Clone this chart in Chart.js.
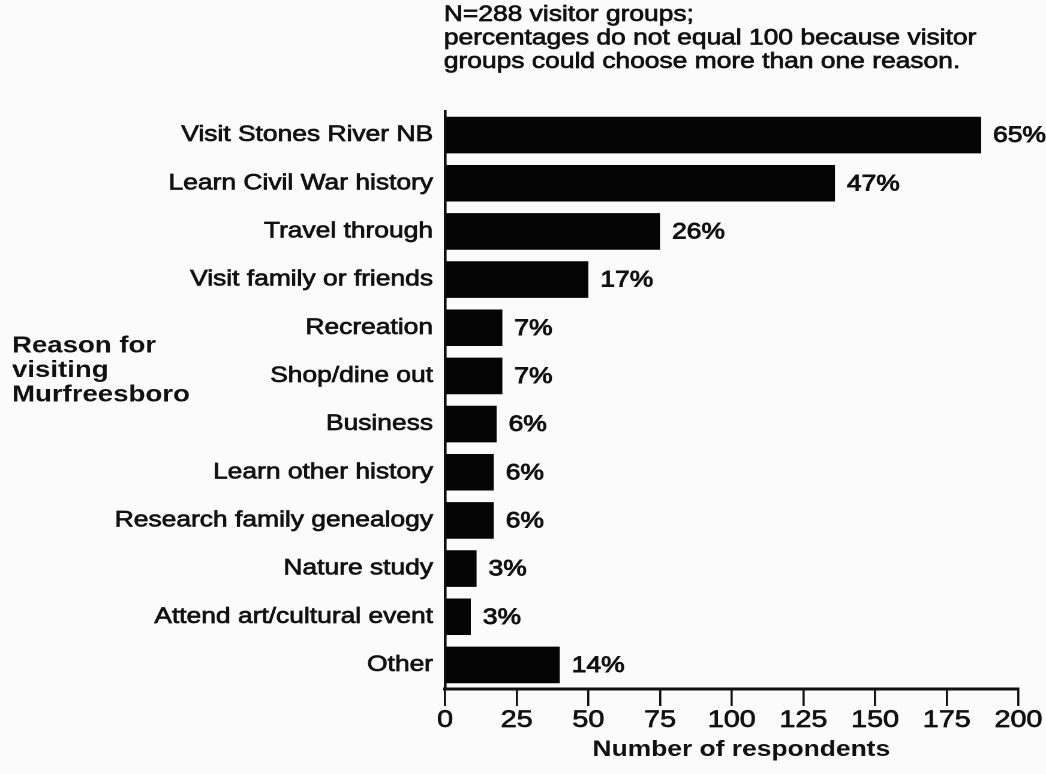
<!DOCTYPE html>
<html>
<head>
<meta charset="utf-8">
<script src="https://cdn.jsdelivr.net/npm/chart.js@4.4.1/dist/chart.umd.min.js"></script>
<style>
  html, body { margin: 0; padding: 0; background: #fbfbfb; }
  #c { display: block; width: 1046px; height: 774px; }
</style>
</head>
<body>
<canvas id="c" width="872" height="774" style="width:1046px;height:774px;"></canvas>
<script>
// ---- data ----
const categories = [
  'Visit Stones River NB',
  'Learn Civil War history',
  'Travel through',
  'Visit family or friends',
  'Recreation',
  'Shop/dine out',
  'Business',
  'Learn other history',
  'Research family genealogy',
  'Nature study',
  'Attend art/cultural event',
  'Other'
];
const respondents = [187, 136, 75, 50, 20, 20, 18, 17, 17, 11, 9, 40];
const percentLabels = ['65%', '47%', '26%', '17%', '7%', '7%', '6%', '6%', '6%', '3%', '3%', '14%'];
const xTicks = [0, 25, 50, 75, 100, 125, 150, 175, 200];
const noteLines = [
  'N=288 visitor groups;',
  'percentages do not equal 100 because visitor',
  'groups could choose more than one reason.'
];
const yTitleLines = ['Reason for', 'visiting', 'Murfreesboro'];
const xTitle = 'Number of respondents';

const FONT = '"Liberation Sans", Arial, Helvetica, sans-serif';
const INK = '#111111';
const STROKE = 0.7;

function heavyText(ctx, t, x, y, w) {
  ctx.fillText(t, x, y);
  ctx.lineWidth = w;
  ctx.strokeStyle = INK;
  ctx.strokeText(t, x, y);
}

const textPlugin = {
  id: 'texts',
  beforeDraw(chart) {
    const ctx = chart.ctx;
    ctx.save();
    ctx.fillStyle = '#fbfbfb';
    ctx.fillRect(0, 0, chart.width, chart.height);
    ctx.restore();
  },
  afterDatasetsDraw(chart) {
    const ctx = chart.ctx;
    const meta = chart.getDatasetMeta(0);
    ctx.save();
    ctx.fillStyle = INK;
    ctx.font = '22px ' + FONT;
    ctx.textAlign = 'left';
    ctx.textBaseline = 'middle';
    meta.data.forEach((bar, i) => {
      heavyText(ctx, percentLabels[i], bar.x + 10, bar.y + 1, 0.9);
    });
    ctx.restore();
  },
  afterDraw(chart) {
    const ctx = chart.ctx;
    const area = chart.chartArea;
    ctx.save();
    ctx.fillStyle = INK;
    // note above the bars
    ctx.font = '22px ' + FONT;
    ctx.textAlign = 'left';
    ctx.textBaseline = 'alphabetic';
    noteLines.forEach((t, i) => heavyText(ctx, t, area.left - 1, 21 + i * 23.5, STROKE));
    // left side title
    ctx.font = 'bold 23px ' + FONT;
    ctx.textBaseline = 'middle';
    yTitleLines.forEach((t, i) => ctx.fillText(t, 10, 346 + i * 24.5));
    // x axis title
    ctx.font = 'bold 22px ' + FONT;
    ctx.textAlign = 'center';
    ctx.fillText(xTitle, (area.left + area.right) / 2 + 8, 750);
    ctx.restore();
  }
};

new Chart(document.getElementById('c'), {
  type: 'bar',
  data: {
    labels: categories,
    datasets: [{
      data: respondents,
      backgroundColor: '#050505',
      borderWidth: 0,
      barPercentage: 0.76,
      categoryPercentage: 1.0
    }]
  },
  options: {
    indexAxis: 'y',
    responsive: false,
    animation: false,
    devicePixelRatio: 2,
    layout: { padding: { top: 111, right: 23, bottom: 0, left: 0 } },
    plugins: { legend: { display: false }, tooltip: { enabled: false } },
    scales: {
      x: {
        type: 'linear',
        min: 0,
        max: 200,
        afterBuildTicks(scale) { scale.ticks = xTicks.map(v => ({ value: v })); },
        afterFit(scale) { scale.height = 85; },
        grid: {
          drawOnChartArea: false,
          drawTicks: true,
          tickLength: 17,
          color: INK,
          lineWidth: 1.8
        },
        border: { display: true, color: INK, width: 3 },
        ticks: {
          color: INK,
          padding: 0,
          maxRotation: 0,
          textStrokeColor: INK,
          textStrokeWidth: STROKE,
          font: { family: FONT, size: 24 }
        }
      },
      y: {
        afterFit(scale) { scale.width = 371; },
        grid: { drawOnChartArea: false, drawTicks: false },
        border: { display: true, color: INK, width: 2.3 },
        ticks: {
          color: INK,
          padding: 10,
          autoSkip: false,
          textStrokeColor: INK,
          textStrokeWidth: STROKE,
          font: { family: FONT, size: 22 }
        }
      }
    }
  },
  plugins: [textPlugin]
});
</script>
</body>
</html>
